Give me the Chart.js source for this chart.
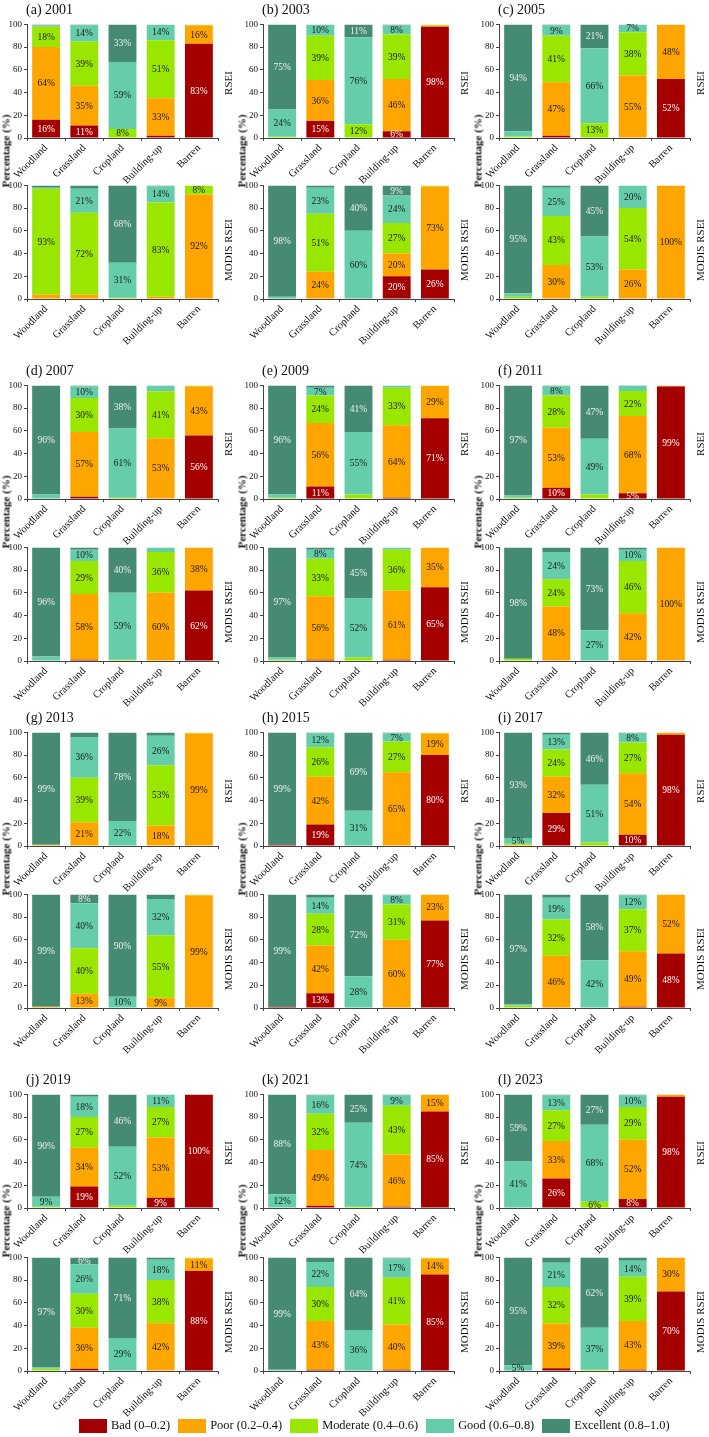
<!DOCTYPE html>
<html>
<head>
<meta charset="utf-8">
<script src="https://cdn.jsdelivr.net/npm/chart.js@4.4.1/dist/chart.umd.min.js"></script>
<style>
  body { margin: 0; background: #fff; font-family: "Liberation Serif", "Times New Roman", serif; }
  #page { position: relative; width: 709px; height: 1437px; overflow: hidden; }
  canvas { position: absolute; }
  .title { position: absolute; font-size: 14px; color: #111; line-height: 1; white-space: nowrap; }
  .vlab { position: absolute; white-space: nowrap; line-height: 1; color: #111; transform: translate(-50%, -50%) rotate(-90deg); }
  .ylab { font-size: 11px; font-weight: bold; }
  .rlab { font-size: 11px; }
  #legend { position: absolute; left: 79px; top: 1418px; display: flex; align-items: center; font-size: 12.4px; color: #111; white-space: nowrap; }
  #legend .it { display: flex; align-items: center; margin-right: 8px; }
  #legend .box { width: 28px; height: 14px; margin-right: 4px; }
</style>
</head>
<body>
<div id="page"></div>
<script>
// land cover types (x categories)
const landTypes = ["Woodland", "Grassland", "Cropland", "Building-up", "Barren"];
// RSEI classes, bottom to top of each stack
const classes = ["Bad (0–0.2)", "Poor (0.2–0.4)", "Moderate (0.4–0.6)", "Good (0.6–0.8)", "Excellent (0.8–1.0)"];
const classColors = ["#a50000", "#ffa500", "#99e600", "#66cdaa", "#458b74"];
const labelColors = ["#ffffff", "#1a1a1a", "#1a1a1a", "#1a1a1a", "#eeeeee"];
const years = ["2001", "2003", "2005", "2007", "2009", "2011", "2013", "2015", "2017", "2019", "2021", "2023"];
const letters = ["a", "b", "c", "d", "e", "f", "g", "h", "i", "j", "k", "l"];
const yTicks = [0, 20, 40, 60, 80, 100];

// percentages, one row per class: [Woodland, Grassland, Cropland, Building-up, Barren]
const rsei2001 = [[16, 11, 0, 2, 83], [64, 35, 0, 33, 16], [18, 39, 8, 51, 1], [1, 14, 59, 14, 0], [1, 1, 33, 0, 0]];
const modis2001 = [[0, 0, 0, 0, 0], [4, 4, 0, 2, 92], [93, 72, 1, 83, 8], [1, 21, 31, 14, 0], [2, 3, 68, 1, 0]];
const rsei2003 = [[0, 15, 0, 6, 98], [0, 36, 0, 46, 1], [1, 39, 12.2, 39, 1], [24, 10, 76.4, 8, 0], [75, 0, 11.4, 1, 0]];
const modis2003 = [[0, 0, 0, 20, 26], [0, 24, 0, 20, 73], [0, 51, 0, 27, 1], [2, 23, 60, 24, 0], [98, 2, 40, 9, 0]];
const rsei2005 = [[0, 2, 0, 0, 52], [0, 47, 0, 55, 48], [1.4, 41, 13, 38, 0], [4.6, 9, 66, 7, 0], [94, 1, 21, 0, 0]];
const modis2005 = [[0, 0, 0, 0, 0], [0, 30, 0, 26, 100], [2, 43, 2, 54, 0], [3, 25, 53, 20, 0], [95, 2, 45, 0, 0]];
const rsei2007 = [[0, 2, 0, 0, 56], [0, 57, 0, 53.4, 43], [0, 30, 1, 41.4, 1], [4, 10, 61, 4.8, 0], [96, 1, 38, 0.4, 0]];
const modis2007 = [[0, 1, 0, 0, 62], [0, 58, 0, 60, 38], [0, 29, 1, 36, 0], [4, 10, 59, 4, 0], [96, 2, 40, 0, 0]];
const rsei2009 = [[0, 11, 0, 1, 71], [0, 56, 0, 64, 29], [1, 24, 4, 33, 0], [3, 7, 55, 2, 0], [96, 2, 41, 0, 0]];
const modis2009 = [[0, 1, 0, 1, 65], [0, 56, 0, 61, 35], [1, 33, 3, 36, 0], [2, 8, 52, 2, 0], [97, 2, 45, 0, 0]];
const rsei2011 = [[0, 10, 0, 5, 99], [0, 53, 0, 68, 1], [1, 28, 4, 22, 0], [2, 8, 49, 4.5, 0], [97, 1, 47, 0.5, 0]];
const modis2011 = [[0, 0, 0, 0, 0], [0, 48, 0, 42, 100], [2, 24, 0, 46, 0], [0, 24, 27, 10, 0], [98, 4, 73, 2, 0]];
const rsei2013 = [[0, 0, 0, 0, 0], [1, 21, 0, 18, 99], [0, 39, 0, 53, 1], [0, 36, 22, 26, 0], [99, 4, 78, 3, 0]];
const modis2013 = [[0, 0, 0, 0, 0], [1, 12.6, 0, 9, 99], [0, 40, 0, 55, 1], [0, 39.6, 10, 32, 0], [99, 7.8, 90, 4, 0]];
const rsei2015 = [[1, 19, 0, 0, 80], [0, 42, 0, 65, 19], [0, 26, 0, 27, 1], [0, 12, 31, 7, 0], [99, 1, 69, 1, 0]];
const modis2015 = [[1, 13, 0, 0, 77], [0, 42, 0, 60, 23], [0, 28, 0, 31, 0], [0, 14, 28, 8, 0], [99, 3, 72, 1, 0]];
const rsei2017 = [[0, 29, 0, 10, 98], [1, 32, 0, 54, 2], [1, 24, 3, 27, 0], [5, 13, 51, 8, 0], [93, 2, 46, 1, 0]];
const modis2017 = [[0, 0, 0, 1, 48], [0, 46, 0, 49, 52], [2, 32, 0, 37, 0], [1, 19, 42, 12, 0], [97, 3, 58, 1, 0]];
const rsei2019 = [[0, 19, 0, 9, 100], [0, 34, 0, 53, 0], [1, 27, 2, 27, 0], [9, 18, 52, 11, 0], [90, 2, 46, 0, 0]];
const modis2019 = [[0, 2, 0, 0, 88], [0, 36, 0, 42, 11], [2, 30, 0, 38, 1], [1, 26, 29, 18, 0], [97, 6, 71, 2, 0]];
const rsei2021 = [[0, 2, 0, 1, 85], [0, 49, 0, 46, 15], [0, 32, 1, 43, 0], [12, 16, 74, 9, 0], [88, 1, 25, 1, 0]];
const modis2021 = [[0, 1, 0, 1, 85], [0, 43, 0, 40, 14], [0, 30, 0, 41, 1], [1, 22, 36, 17, 0], [99, 4, 64, 1, 0]];
const rsei2023 = [[0, 26, 0, 8, 98], [0, 33, 0, 52, 2], [0, 27, 5.6, 29, 0], [41, 13, 67.6, 10, 0], [59, 1, 26.8, 1, 0]];
const modis2023 = [[0, 2.5, 0, 1, 70], [0, 39.4, 0, 43, 30], [0, 32, 1, 39, 0], [5, 21.4, 37, 14, 0], [95, 4.7, 62, 3, 0]];

const rseiAll = [rsei2001, rsei2003, rsei2005, rsei2007, rsei2009, rsei2011, rsei2013, rsei2015, rsei2017, rsei2019, rsei2021, rsei2023];
const modisAll = [modis2001, modis2003, modis2005, modis2007, modis2009, modis2011, modis2013, modis2015, modis2017, modis2019, modis2021, modis2023];

// panel grid (pixels)
const colX = [0, 236, 472];
const rseiTop = [23, 384, 731, 1093];
const modisTop = [184, 546, 893, 1256];
const plotH = 115;
const fontFam = '"Liberation Serif", "Times New Roman", serif';

// writes the percentage inside each segment
const barText = {
  id: "barText",
  afterDatasetsDraw(chart) {
    const ctx = chart.ctx;
    ctx.save();
    ctx.font = "9.5px " + fontFam;
    ctx.textAlign = "center";
    ctx.textBaseline = "middle";
    chart.data.datasets.forEach((ds, i) => {
      chart.getDatasetMeta(i).data.forEach((bar, j) => {
        const v = ds.data[j];
        if (v < 5) return;
        ctx.fillStyle = labelColors[i];
        ctx.fillText(Math.round(v) + "%", bar.x, (bar.y + bar.base) / 2 + 0.5);
      });
    });
    ctx.restore();
  },
};

const page = document.getElementById("page");

function addText(cls, text, x, y) {
  const d = document.createElement("div");
  d.className = cls;
  d.textContent = text;
  d.style.left = x + "px";
  d.style.top = y + "px";
  page.appendChild(d);
  return d;
}

function makeChart(rows, x, top) {
  const cv = document.createElement("canvas");
  cv.width = 236;
  cv.height = plotH + 6 + 48;
  cv.style.left = x + "px";
  cv.style.top = top - 6 + "px";
  page.appendChild(cv);

  new Chart(cv.getContext("2d"), {
    type: "bar",
    data: {
      labels: landTypes,
      datasets: classes.map((c, i) => ({
        label: c,
        data: rows[i],
        backgroundColor: classColors[i],
        borderWidth: 0,
        categoryPercentage: 1,
        barPercentage: 0.73,
      })),
    },
    options: {
      responsive: false,
      animation: false,
      layout: { padding: { top: 6, right: 18, left: 0, bottom: 0 } },
      plugins: { legend: { display: false }, tooltip: { enabled: false } },
      scales: {
        x: {
          stacked: true,
          grid: { display: true, drawOnChartArea: false, tickLength: 3, color: "#444" },
          border: { display: true, color: "#444", width: 1 },
          ticks: { minRotation: 45, maxRotation: 45, padding: 1, color: "#111", font: { family: fontFam, size: 10.5 } },
          afterFit: (s) => { s.height = 48; },
        },
        y: {
          stacked: true,
          min: 0,
          max: 100,
          afterBuildTicks: (s) => { s.ticks = yTicks.map((v) => ({ value: v })); },
          grid: { display: true, drawOnChartArea: false, tickLength: 3, color: "#444" },
          border: { display: true, color: "#444", width: 1 },
          ticks: { padding: 2, color: "#111", font: { family: fontFam, size: 9 } },
          afterFit: (s) => { s.width = 27; },
        },
      },
    },
    plugins: [barText],
  });
}

years.forEach((yr, k) => {
  const col = k % 3;
  const row = Math.floor(k / 3);
  const x = colX[col];
  makeChart(rseiAll[k], x, rseiTop[row]);
  makeChart(modisAll[k], x, modisTop[row]);

  addText("title", "(" + letters[k] + ") " + yr, x + 26, rseiTop[row] - 20);
  addText("vlab ylab", "Percentage (%)", x + 6, rseiTop[row] + 128);
  addText("vlab rlab", "RSEI", x + 228, rseiTop[row] + 60);
  addText("vlab rlab", "MODIS RSEI", x + 228, modisTop[row] + 66);
});

// legend
const leg = document.createElement("div");
leg.id = "legend";
classes.forEach((c, i) => {
  const it = document.createElement("div");
  it.className = "it";
  it.innerHTML = '<span class="box" style="background:' + classColors[i] + '"></span><span>' + c + "</span>";
  leg.appendChild(it);
});
page.appendChild(leg);
</script>
</body>
</html>
